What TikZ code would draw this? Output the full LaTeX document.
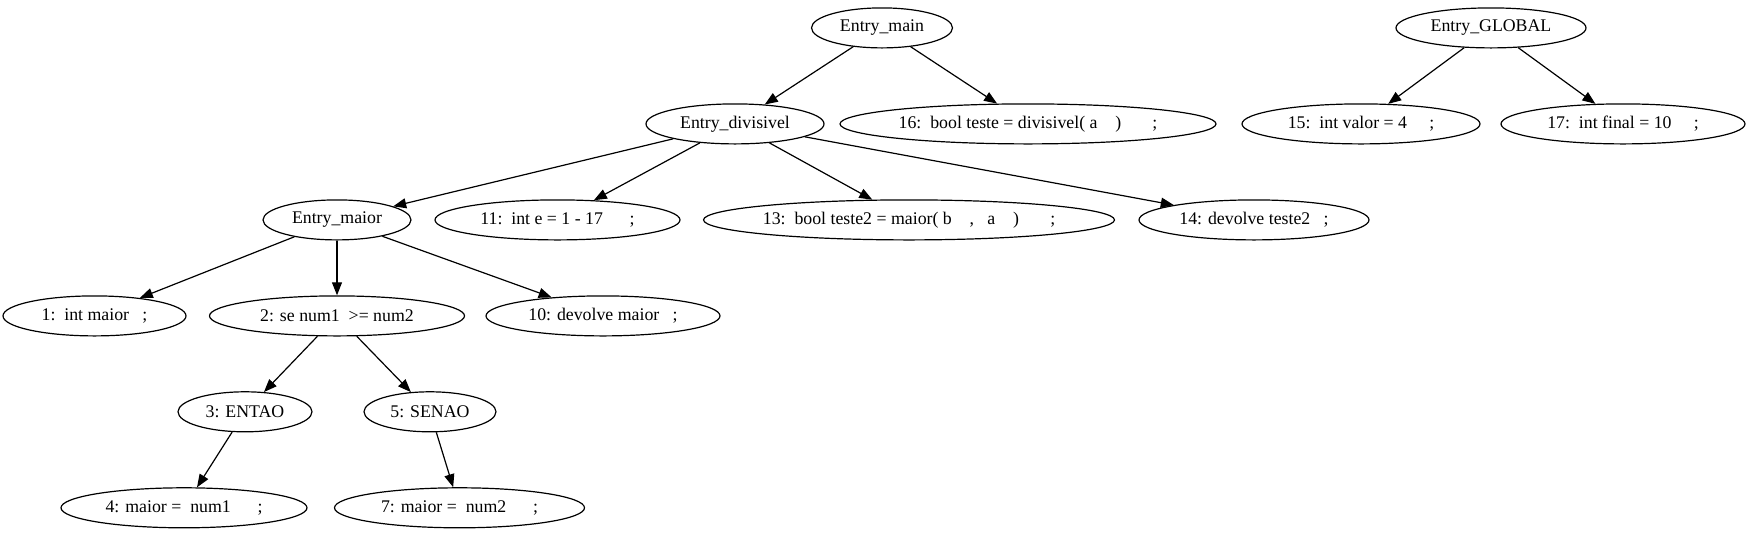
\documentclass[tikz,border=0pt]{standalone}
\usepackage{fontspec}
\setmainfont{Liberation Serif}
\usetikzlibrary{shapes.geometric,arrows.meta}
\newcommand{\Z}[1]{\makebox[0pt][c]{#1}}
\newcommand{\Sp}[1]{\hspace{#1\fontdimen2\font}}
\begin{document}
\begin{tikzpicture}[x=1pt,y=-1pt,
  nd/.style={draw,ellipse,inner sep=0pt,minimum height=40pt,line width=1.2pt,font=\fontsize{17.8}{20}\selectfont},
  ed/.style={line width=1.2pt,-{Triangle[length=13pt,width=10pt]}}]
\useasboundingbox (0,0) rectangle (1750,539);
\node[nd,minimum width=141pt] (em) at (882,27.9) {\Z{Entry\_main}};
\node[nd,minimum width=190pt] (eg) at (1491,27.9) {\Z{Entry\_GLOBAL}};
\node[nd,minimum width=178pt] (ed) at (735,123.9) {\Z{Entry\_divisivel}};
\node[nd,minimum width=376pt] (n16) at (1028,123.9) {\Z{16:\Sp2bool teste = divisivel( a\Sp4)\Sp7;}};
\node[nd,minimum width=238pt] (n15) at (1361,123.9) {\Z{15:\Sp2int valor = 4\Sp5;}};
\node[nd,minimum width=244pt] (n17) at (1623,123.9) {\Z{17:\Sp2int final = 10\Sp5;}};
\node[nd,minimum width=148pt] (ema) at (337,219.9) {\Z{Entry\_maior}};
\node[nd,minimum width=245pt] (n11) at (557.5,219.9) {\Z{11:\Sp2int e = 1 - 17\Sp6;}};
\node[nd,minimum width=411pt] (n13) at (909,219.9) {\Z{13:\Sp2bool teste2 = maior( b\Sp4,\Sp3a\Sp4)\Sp7;}};
\node[nd,minimum width=230pt] (n14) at (1254,219.9) {\Z{14: devolve teste2\Sp3;}};
\node[nd,minimum width=183pt] (n1) at (94.5,315.9) {\Z{1:\Sp2int maior\Sp3;}};
\node[nd,minimum width=255pt] (n2) at (337,315.9) {\Z{2: se num1\Sp2>= num2}};
\node[nd,minimum width=234pt] (n10) at (603,315.9) {\Z{10: devolve maior\Sp3;}};
\node[nd,minimum width=134pt] (n3) at (245,411.8) {\Z{3: ENTAO}};
\node[nd,minimum width=132pt] (n5) at (430,411.8) {\Z{5: SENAO}};
\node[nd,minimum width=246pt] (n4) at (184,507.8) {\Z{4: maior =\Sp2num1\Sp6;}};
\node[nd,minimum width=250pt] (n7) at (459.5,507.8) {\Z{7: maior =\Sp2num2\Sp6;}};
\draw[ed] (em) -- (ed);
\draw[ed] (em) -- (n16);
\draw[ed] (eg) -- (n15);
\draw[ed] (eg) -- (n17);
\draw[ed] (ed) -- (ema);
\draw[ed] (ed) -- (n11);
\draw[ed] (ed) -- (n13);
\draw[ed] (ed) -- (n14);
\draw[ed] (ema) -- (n1);
\draw[ed] (ema) -- (n2);
\draw[ed] (ema) -- (n10);
\draw[ed] (n2) -- (n3);
\draw[ed] (n2) -- (n5);
\draw[ed] (n3) -- (n4);
\draw[ed] (n5) -- (n7);
\end{tikzpicture}
\end{document}
